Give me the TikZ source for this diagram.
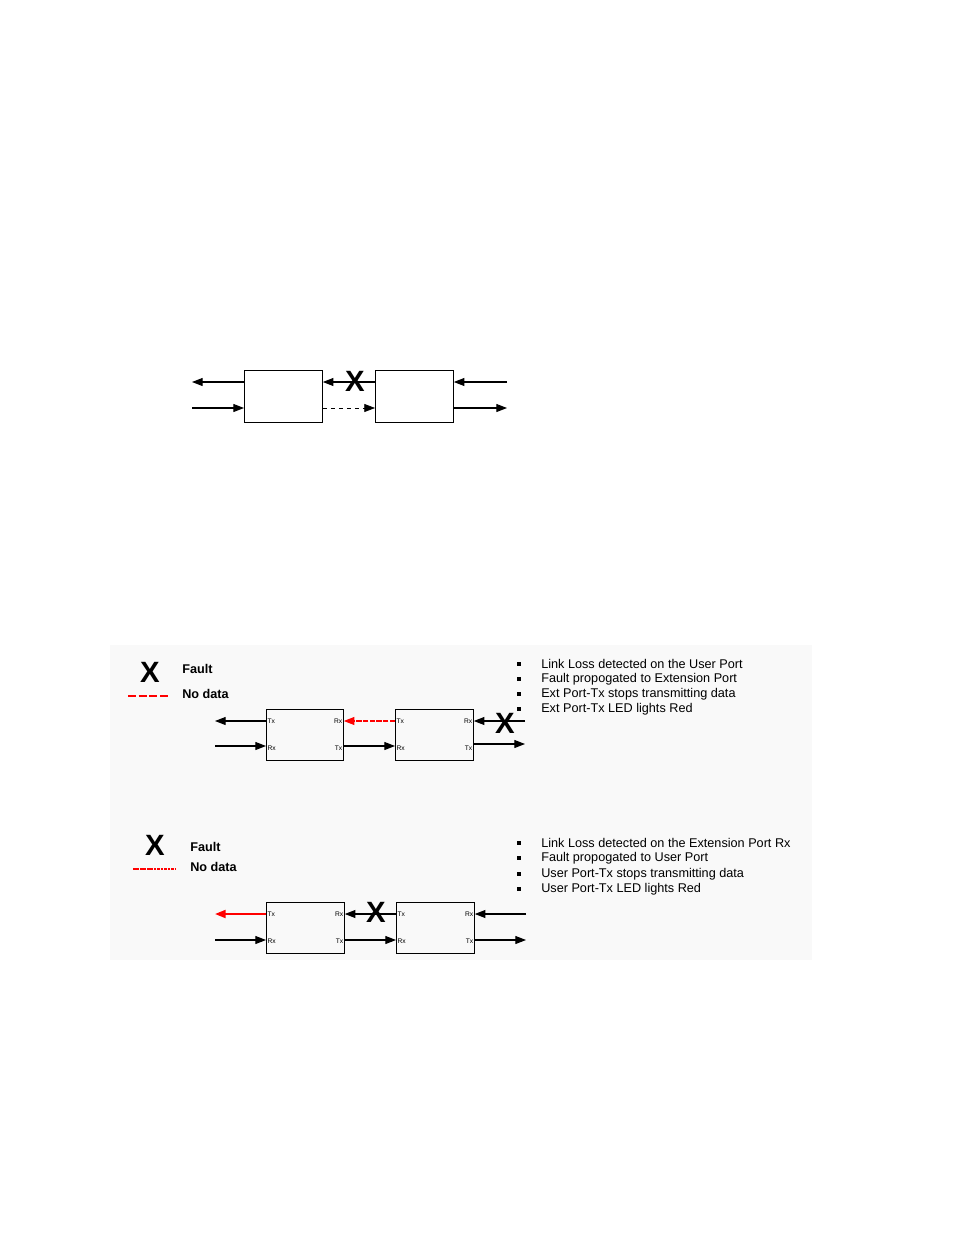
\documentclass[tikz,border=0pt]{standalone}
\usepackage{fontspec}
\setmainfont{Liberation Sans}
\usetikzlibrary{arrows.meta}
\begin{document}
\begin{tikzpicture}[x=0.75pt,y=-0.75pt,
  blk/.style={draw,line width=0.6pt,minimum width=58.5pt,minimum height=39pt,inner sep=0,anchor=north west},
  ar/.style={-{Triangle[length=8pt,width=6pt]},line width=0.8pt},
  red/.style={draw=red,color=red},
  fx/.style={font=\fontsize{22}{22}\selectfont\bfseries,inner sep=0},
  pt/.style={font=\fontsize{5}{5}\selectfont,inner sep=1pt},
  bt/.style={font=\fontsize{9.5}{11}\selectfont,anchor=west,inner sep=0},
  lg/.style={font=\fontsize{9.5}{11}\selectfont\bfseries,anchor=west,inner sep=0}]
\useasboundingbox (0,0) rectangle (954,1235);
\fill[white] (0,0) rectangle (954,1235);
\fill[gray!5] (110,645) rectangle (812,960);
% top diagram
\node[blk] (a) at (244,370) {};
\node[blk] (b) at (375,370) {};
\coordinate (a1) at (192,382); \coordinate (a2) at (192,408);
\coordinate (b1) at (507,382); \coordinate (b2) at (507,408);
\draw[ar] (a.west|-a1) -- (a1);
\draw[ar] (a2) -- (a.west|-a2);
\draw[ar] (b.west|-a1) -- (a.east|-a1);
\draw[ar,dashed,line width=0.5pt] (a.east|-a2) -- (b.west|-a2);
\draw[ar] (b1) -- (b.east|-b1);
\draw[ar] (b.east|-b2) -- (b2);
\node[fx] (x0) at (355,381) {X};
% panel 1
\node[fx] (lx1) at (150,672) {X};
\draw[red,line width=1.2pt,dash pattern=on 6pt off 2pt] (128,696) coordinate (r1) -- (170,696) coordinate (r2);
\node[lg] (f1) at (182,669) {Fault};
\node[lg] (n1) at (182,694) {No data};
\node[blk,minimum width=57.75pt,minimum height=38.25pt] (c) at (266,709) {};
\node[blk,minimum width=58.5pt,minimum height=38.25pt] (d) at (395,709) {};
\foreach \n in {c,d}{
 \node[pt,anchor=west] at ([yshift=-9pt]\n.north west) {Tx};
 \node[pt,anchor=east] at ([yshift=-9pt]\n.north east) {Rx};
 \node[pt,anchor=west] at ([yshift=9.5pt]\n.south west) {Rx};
 \node[pt,anchor=east] at ([yshift=9.5pt]\n.south east) {Tx};}
\coordinate (c1) at (215,721); \coordinate (c2) at (215,746);
\coordinate (d1) at (525,721); \coordinate (d2) at (525,744);
\draw[ar] (c.west|-c1) -- (c1);
\draw[ar] (c2) -- (c.west|-c2);
\draw[ar,red,dash pattern=on 4pt off 1pt] (d.west|-c1) -- (c.east|-c1);
\draw[ar] (c.east|-c2) -- (d.west|-c2);
\draw[ar] (d1) -- (d.east|-d1);
\draw[ar] (d.east|-d2) -- (d2);
\node[fx] (x1) at (505,723) {X};
\foreach \y/\t in {664/Link Loss detected on the User Port,679/Fault propogated to Extension Port,694/Ext Port-Tx stops transmitting data,709/Ext Port-Tx LED lights Red}{
 \fill (516.5,\y-2) rectangle (520.5,\y+2);
 \node[bt] at (541,\y) {\t};}
% panel 2
\node[fx] (lx2) at (155,845) {X};
\draw[red,line width=1.5pt,dash pattern=on 2pt off 0.6pt] (133,869) coordinate (s1) -- (175,869) coordinate (s2);
\node[lg] (f2) at (190,847) {Fault};
\node[lg] (n2) at (190,867) {No data};
\node[blk,minimum width=58.5pt,minimum height=38.25pt] (e) at (266,902) {};
\node[blk,minimum width=58.5pt,minimum height=38.25pt] (f) at (396,902) {};
\foreach \n in {e,f}{
 \node[pt,anchor=west] at ([yshift=-9pt]\n.north west) {Tx};
 \node[pt,anchor=east] at ([yshift=-9pt]\n.north east) {Rx};
 \node[pt,anchor=west] at ([yshift=9.5pt]\n.south west) {Rx};
 \node[pt,anchor=east] at ([yshift=9.5pt]\n.south east) {Tx};}
\coordinate (e1) at (215,914); \coordinate (e2) at (215,940);
\coordinate (f1) at (526,914); \coordinate (f2) at (526,940);
\draw[ar,red,line width=1.5pt] (e.west|-e1) -- (e1);
\draw[ar] (e2) -- (e.west|-e2);
\draw[ar] (f.west|-e1) -- (e.east|-e1);
\draw[ar] (e.east|-e2) -- (f.west|-e2);
\draw[ar] (f1) -- (f.east|-f1);
\draw[ar] (f.east|-f2) -- (f2);
\node[fx] (x2) at (376,912) {X};
\foreach \y/\t in {843/Link Loss detected on the Extension Port Rx,858/Fault propogated to User Port,874/User Port-Tx stops transmitting data,889/User Port-Tx LED lights Red}{
 \fill (516.5,\y-2) rectangle (520.5,\y+2);
 \node[bt] at (541,\y) {\t};}
\end{tikzpicture}
\end{document}
